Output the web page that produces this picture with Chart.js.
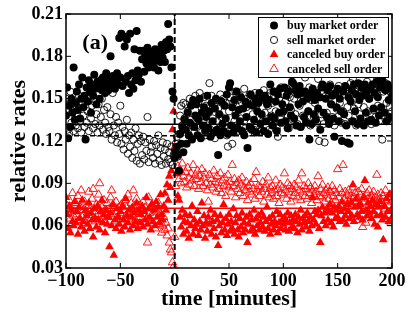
<!DOCTYPE html>
<html>
<head>
<meta charset="utf-8">
<script src="https://cdn.jsdelivr.net/npm/chart.js@4.4.1/dist/chart.umd.min.js"></script>
<style>
    html, body { margin: 0; padding: 0; background: #fff; }
    #chart { display: block; }
</style>
</head>
<body>
<canvas id="chart" width="409" height="314"></canvas>
<script>
// axis ticks
const xTicks = [-100, -50, 0, 50, 100, 150, 200];
const yTicks = [0.03, 0.06, 0.09, 0.12, 0.15, 0.18, 0.21];

// one value per minute, from -100 to 200
const firstMinute = -100;

// buy market order (filled black circles)
const buyMarket = [
    0.138, 0.158, 0.122, 0.145, 0.130, 0.150, 0.140, 0.172, 0.135, 0.147, // -100
    0.155, 0.142, 0.160, 0.136, 0.150, 0.165, 0.144, 0.152, 0.121, 0.158, // -90
    0.148, 0.163, 0.155, 0.140, 0.160, 0.152, 0.167, 0.157, 0.146, 0.162, // -80
    0.158, 0.150, 0.163, 0.156, 0.165, 0.160, 0.154, 0.168, 0.161, 0.156, // -70
    0.164, 0.180, 0.159, 0.166, 0.161, 0.157, 0.163, 0.168, 0.160, 0.193, // -60
    0.165, 0.196, 0.159, 0.194, 0.187, 0.162, 0.192, 0.166, 0.154, 0.196, // -50
    0.160, 0.168, 0.157, 0.185, 0.163, 0.198, 0.170, 0.167, 0.184, 0.162, // -40
    0.178, 0.184, 0.169, 0.181, 0.175, 0.186, 0.172, 0.179, 0.183, 0.174, // -30
    0.180, 0.172, 0.185, 0.177, 0.181, 0.170, 0.183, 0.176, 0.188, 0.179, // -20
    0.184, 0.176, 0.190, 0.185, 0.203, 0.192, 0.187, 0.172, 0.155, 0.150, // -10
    0.108, 0.113, 0.116, 0.110, 0.099, 0.125, 0.118, 0.130, 0.112, 0.135, // 0
    0.128, 0.118, 0.140, 0.124, 0.133, 0.145, 0.121, 0.149, 0.130, 0.138, // 10
    0.146, 0.124, 0.135, 0.150, 0.122, 0.140, 0.131, 0.144, 0.127, 0.137, // 20
    0.152, 0.129, 0.141, 0.123, 0.147, 0.134, 0.126, 0.143, 0.150, 0.128, // 30
    0.110, 0.139, 0.124, 0.148, 0.132, 0.127, 0.145, 0.136, 0.153, 0.125, // 40
    0.158, 0.161, 0.131, 0.144, 0.126, 0.149, 0.138, 0.155, 0.129, 0.142, // 50
    0.134, 0.151, 0.127, 0.143, 0.124, 0.148, 0.137, 0.115, 0.146, 0.130, // 60
    0.153, 0.128, 0.145, 0.135, 0.150, 0.126, 0.141, 0.147, 0.154, 0.132, // 70
    0.139, 0.150, 0.127, 0.152, 0.134, 0.146, 0.125, 0.149, 0.160, 0.137, // 80
    0.131, 0.155, 0.136, 0.148, 0.127, 0.153, 0.140, 0.157, 0.133, 0.146, // 90
    0.141, 0.158, 0.134, 0.152, 0.129, 0.155, 0.144, 0.138, 0.162, 0.161, // 100
    0.136, 0.156, 0.131, 0.153, 0.146, 0.159, 0.130, 0.154, 0.148, 0.137, // 110
    0.155, 0.133, 0.150, 0.141, 0.121, 0.153, 0.132, 0.157, 0.139, 0.149, // 120
    0.135, 0.154, 0.143, 0.151, 0.128, 0.158, 0.160, 0.140, 0.158, 0.150, // 130
    0.137, 0.156, 0.132, 0.159, 0.146, 0.152, 0.136, 0.123, 0.154, 0.144, // 140
    0.157, 0.134, 0.150, 0.141, 0.120, 0.155, 0.139, 0.159, 0.131, 0.119, // 150
    0.151, 0.118, 0.148, 0.156, 0.134, 0.160, 0.141, 0.153, 0.132, 0.161, // 160
    0.149, 0.136, 0.158, 0.152, 0.131, 0.160, 0.140, 0.155, 0.134, 0.150, // 170
    0.157, 0.135, 0.160, 0.143, 0.154, 0.133, 0.162, 0.151, 0.138, 0.158, // 180
    0.144, 0.163, 0.161, 0.140, 0.156, 0.134, 0.160, 0.149, 0.137, 0.157, // 190
    0.152                                                                 // 200
];

// sell market order (open black circles)
const sellMarket = [
    0.150, 0.128, 0.146, 0.125, 0.155, 0.133, 0.141, 0.127, 0.148, 0.131, // -100
    0.144, 0.129, 0.152, 0.134, 0.126, 0.147, 0.138, 0.130, 0.149, 0.133, // -90
    0.141, 0.127, 0.150, 0.136, 0.145, 0.129, 0.148, 0.132, 0.139, 0.126, // -80
    0.146, 0.131, 0.137, 0.150, 0.128, 0.142, 0.133, 0.125, 0.144, 0.130, // -70
    0.127, 0.139, 0.121, 0.154, 0.131, 0.124, 0.137, 0.119, 0.133, 0.125, // -60
    0.145, 0.118, 0.130, 0.114, 0.127, 0.121, 0.135, 0.111, 0.124, 0.116, // -50
    0.126, 0.108, 0.121, 0.113, 0.129, 0.106, 0.118, 0.124, 0.104, 0.120, // -40
    0.110, 0.123, 0.107, 0.119, 0.113, 0.137, 0.105, 0.121, 0.112, 0.116, // -30
    0.108, 0.120, 0.104, 0.117, 0.111, 0.124, 0.106, 0.115, 0.103, 0.119, // -20
    0.109, 0.114, 0.104, 0.118, 0.107, 0.112, 0.105, 0.116, 0.103, 0.110, // -10
    0.112, 0.118, 0.123, 0.109, 0.125, 0.138, 0.145, 0.131, 0.147, 0.136, // 0
    0.146, 0.129, 0.141, 0.124, 0.150, 0.135, 0.131, 0.147, 0.126, 0.152, // 10
    0.137, 0.130, 0.148, 0.154, 0.127, 0.143, 0.133, 0.151, 0.124, 0.145, // 20
    0.131, 0.144, 0.161, 0.128, 0.152, 0.136, 0.146, 0.122, 0.149, 0.134, // 30
    0.143, 0.129, 0.153, 0.137, 0.126, 0.150, 0.133, 0.147, 0.124, 0.116, // 40
    0.141, 0.151, 0.129, 0.118, 0.147, 0.134, 0.155, 0.131, 0.149, 0.127, // 50
    0.152, 0.136, 0.147, 0.130, 0.157, 0.129, 0.144, 0.150, 0.126, 0.153, // 60
    0.133, 0.148, 0.139, 0.128, 0.154, 0.145, 0.131, 0.151, 0.137, 0.127, // 70
    0.149, 0.134, 0.156, 0.140, 0.130, 0.152, 0.145, 0.128, 0.154, 0.138, // 80
    0.147, 0.132, 0.155, 0.141, 0.129, 0.123, 0.150, 0.136, 0.158, 0.140, // 90
    0.153, 0.133, 0.148, 0.157, 0.138, 0.129, 0.151, 0.142, 0.160, 0.135, // 100
    0.150, 0.139, 0.157, 0.132, 0.153, 0.145, 0.130, 0.155, 0.138, 0.151, // 110
    0.165, 0.134, 0.152, 0.141, 0.158, 0.131, 0.149, 0.156, 0.137, 0.147, // 120
    0.153, 0.133, 0.164, 0.120, 0.151, 0.139, 0.159, 0.132, 0.119, 0.152, // 130
    0.140, 0.155, 0.134, 0.160, 0.146, 0.137, 0.157, 0.131, 0.153, 0.143, // 140
    0.137, 0.159, 0.147, 0.133, 0.156, 0.141, 0.153, 0.132, 0.158, 0.144, // 150
    0.138, 0.152, 0.161, 0.134, 0.164, 0.143, 0.155, 0.131, 0.158, 0.146, // 160
    0.139, 0.160, 0.133, 0.153, 0.144, 0.157, 0.136, 0.162, 0.141, 0.150, // 170
    0.155, 0.132, 0.159, 0.142, 0.153, 0.137, 0.163, 0.145, 0.134, 0.157, // 180
    0.143, 0.121, 0.155, 0.138, 0.161, 0.147, 0.135, 0.158, 0.144, 0.154, // 190
    0.141                                                                 // 200
];

// canceled buy order (filled red triangles)
const canceledBuy = [
    0.080, 0.068, 0.058, 0.074, 0.055, 0.071, 0.063, 0.060, 0.077, 0.062, // -100
    0.070, 0.054, 0.073, 0.065, 0.059, 0.078, 0.063, 0.056, 0.071, 0.067, // -90
    0.061, 0.076, 0.058, 0.069, 0.064, 0.052, 0.072, 0.065, 0.059, 0.074, // -80
    0.064, 0.057, 0.070, 0.078, 0.062, 0.068, 0.055, 0.071, 0.061, 0.066, // -70
    0.045, 0.069, 0.060, 0.075, 0.039, 0.064, 0.058, 0.072, 0.066, 0.061, // -60
    0.070, 0.056, 0.074, 0.064, 0.059, 0.079, 0.067, 0.062, 0.071, 0.057, // -50
    0.066, 0.073, 0.060, 0.069, 0.063, 0.076, 0.058, 0.071, 0.062, 0.068, // -40
    0.074, 0.059, 0.070, 0.064, 0.080, 0.061, 0.072, 0.066, 0.057, 0.075, // -30
    0.063, 0.071, 0.060, 0.077, 0.066, 0.073, 0.062, 0.082, 0.068, 0.064, // -20
    0.074, 0.083, 0.071, 0.089, 0.078, 0.095, 0.087, 0.099, 0.128, 0.141, // -10
    0.116, 0.112, 0.097, 0.081, 0.078, 0.066, 0.059, 0.071, 0.054, 0.063, // 0
    0.068, 0.056, 0.062, 0.051, 0.067, 0.060, 0.074, 0.054, 0.064, 0.058, // 10
    0.061, 0.070, 0.053, 0.063, 0.057, 0.076, 0.060, 0.067, 0.051, 0.062, // 20
    0.056, 0.066, 0.061, 0.071, 0.054, 0.063, 0.058, 0.068, 0.052, 0.064, // 30
    0.046, 0.060, 0.067, 0.055, 0.062, 0.075, 0.057, 0.065, 0.053, 0.061, // 40
    0.068, 0.056, 0.063, 0.058, 0.072, 0.054, 0.062, 0.067, 0.057, 0.052, // 50
    0.065, 0.059, 0.069, 0.055, 0.062, 0.057, 0.066, 0.048, 0.061, 0.068, // 60
    0.056, 0.064, 0.058, 0.071, 0.054, 0.065, 0.060, 0.067, 0.057, 0.062, // 70
    0.069, 0.059, 0.066, 0.056, 0.063, 0.073, 0.058, 0.065, 0.054, 0.061, // 80
    0.067, 0.057, 0.063, 0.060, 0.070, 0.055, 0.062, 0.068, 0.058, 0.064, // 90
    0.061, 0.066, 0.057, 0.063, 0.069, 0.056, 0.062, 0.067, 0.059, 0.064, // 100
    0.058, 0.068, 0.063, 0.055, 0.066, 0.061, 0.071, 0.057, 0.065, 0.062, // 110
    0.067, 0.059, 0.069, 0.063, 0.056, 0.066, 0.060, 0.080, 0.064, 0.070, // 120
    0.061, 0.068, 0.071, 0.058, 0.048, 0.067, 0.073, 0.063, 0.069, 0.060, // 130
    0.072, 0.064, 0.070, 0.075, 0.062, 0.069, 0.059, 0.073, 0.065, 0.071, // 140
    0.066, 0.074, 0.063, 0.070, 0.077, 0.064, 0.072, 0.067, 0.061, 0.075, // 150
    0.070, 0.065, 0.076, 0.067, 0.089, 0.063, 0.073, 0.079, 0.068, 0.074, // 160
    0.066, 0.075, 0.070, 0.064, 0.080, 0.092, 0.071, 0.067, 0.076, 0.069, // 170
    0.074, 0.065, 0.078, 0.070, 0.061, 0.075, 0.067, 0.059, 0.073, 0.077, // 180
    0.068, 0.064, 0.050, 0.074, 0.066, 0.079, 0.070, 0.063, 0.082, 0.071, // 190
    0.066                                                                 // 200
];

// canceled sell order (open red triangles)
const canceledSell = [
    0.061, 0.074, 0.069, 0.078, 0.065, 0.072, 0.083, 0.067, 0.070, 0.076, // -100
    0.068, 0.081, 0.064, 0.073, 0.085, 0.066, 0.071, 0.077, 0.062, 0.074, // -90
    0.069, 0.084, 0.072, 0.065, 0.079, 0.086, 0.070, 0.063, 0.075, 0.068, // -80
    0.082, 0.090, 0.067, 0.073, 0.064, 0.078, 0.071, 0.069, 0.076, 0.066, // -70
    0.072, 0.080, 0.085, 0.068, 0.074, 0.063, 0.077, 0.070, 0.066, 0.073, // -60
    0.069, 0.075, 0.062, 0.071, 0.078, 0.067, 0.073, 0.082, 0.065, 0.070, // -50
    0.076, 0.068, 0.085, 0.072, 0.064, 0.079, 0.070, 0.066, 0.074, 0.061, // -40
    0.071, 0.077, 0.068, 0.073, 0.065, 0.048, 0.080, 0.069, 0.062, 0.075, // -30
    0.067, 0.072, 0.058, 0.070, 0.064, 0.076, 0.061, 0.068, 0.055, 0.060, // -20
    0.066, 0.057, 0.062, 0.053, 0.058, 0.048, 0.043, 0.041, 0.034, 0.031, // -10
    0.052, 0.088, 0.097, 0.102, 0.093, 0.099, 0.090, 0.104, 0.095, 0.091, // 0
    0.098, 0.087, 0.101, 0.094, 0.089, 0.097, 0.092, 0.103, 0.088, 0.096, // 10
    0.093, 0.099, 0.086, 0.095, 0.091, 0.100, 0.088, 0.094, 0.097, 0.090, // 20
    0.085, 0.077, 0.096, 0.089, 0.093, 0.087, 0.099, 0.091, 0.084, 0.095, // 30
    0.090, 0.086, 0.097, 0.083, 0.092, 0.088, 0.094, 0.081, 0.089, 0.096, // 40
    0.087, 0.091, 0.084, 0.103, 0.088, 0.093, 0.080, 0.090, 0.086, 0.092, // 50
    0.083, 0.089, 0.094, 0.081, 0.087, 0.085, 0.091, 0.078, 0.088, 0.084, // 60
    0.090, 0.082, 0.086, 0.093, 0.079, 0.098, 0.085, 0.088, 0.081, 0.087, // 70
    0.084, 0.091, 0.077, 0.086, 0.089, 0.082, 0.094, 0.080, 0.087, 0.083, // 80
    0.088, 0.079, 0.085, 0.092, 0.081, 0.086, 0.076, 0.089, 0.083, 0.087, // 90
    0.082, 0.097, 0.085, 0.079, 0.090, 0.084, 0.088, 0.077, 0.086, 0.081, // 100
    0.089, 0.083, 0.087, 0.080, 0.092, 0.085, 0.078, 0.097, 0.084, 0.088, // 110
    0.081, 0.086, 0.079, 0.090, 0.083, 0.087, 0.076, 0.085, 0.082, 0.088, // 120
    0.084, 0.078, 0.095, 0.081, 0.086, 0.080, 0.089, 0.083, 0.077, 0.085, // 130
    0.082, 0.087, 0.079, 0.084, 0.076, 0.088, 0.081, 0.085, 0.078, 0.083, // 140
    0.100, 0.080, 0.086, 0.074, 0.083, 0.103, 0.079, 0.084, 0.077, 0.082, // 150
    0.085, 0.078, 0.081, 0.075, 0.087, 0.080, 0.083, 0.064, 0.079, 0.084, // 160
    0.076, 0.082, 0.086, 0.059, 0.080, 0.077, 0.062, 0.083, 0.079, 0.085, // 170
    0.078, 0.081, 0.074, 0.084, 0.080, 0.077, 0.096, 0.082, 0.075, 0.079, // 180
    0.083, 0.076, 0.081, 0.072, 0.085, 0.078, 0.080, 0.074, 0.082, 0.062, // 190
    0.077                                                                 // 200
];

// reference levels
const marketLevelSolid = 0.1318;
const marketLevelDashed = 0.1238;
const canceledLevel = 0.0723;
const eventMinute = 0;

const serif = "'Liberation Serif', 'Times New Roman', serif";

function toPoints(values) {
    return values.map((v, i) => ({ x: firstMinute + i, y: v }));
}
function hLine(level) {
    return [{ x: xTicks[0], y: level }, { x: xTicks[xTicks.length - 1], y: level }];
}

const legendItems = [
    { text: 'buy market order', style: 'circle', fill: '#000', stroke: '#000' },
    { text: 'sell market order', style: 'circle', fill: null, stroke: '#000' },
    { text: 'canceled buy order', style: 'triangle', fill: '#ff0000', stroke: '#ff0000' },
    { text: 'canceled sell order', style: 'triangle', fill: null, stroke: '#ff0000' }
];

function drawMarker(ctx, item, x, y) {
    ctx.beginPath();
    if (item.style === 'circle') {
        ctx.arc(x, y, item.fill ? 4 : 3.6, 0, Math.PI * 2);
    } else {
        const r = 5;
        ctx.moveTo(x, y - r);
        ctx.lineTo(x + r * 0.866, y + r * 0.5);
        ctx.lineTo(x - r * 0.866, y + r * 0.5);
        ctx.closePath();
    }
    if (item.fill) {
        ctx.fillStyle = item.fill;
        ctx.fill();
    } else {
        ctx.lineWidth = 0.9;
        ctx.strokeStyle = item.stroke;
        ctx.stroke();
    }
}

const framePlugin = {
    id: 'frame',
    afterDatasetsDraw(chart) {
        const { ctx, chartArea: a, scales: { x, y } } = chart;
        ctx.save();
        ctx.strokeStyle = '#000';
        ctx.lineWidth = 1;
        ctx.beginPath();
        xTicks.forEach(v => {
            const px = x.getPixelForValue(v);
            ctx.moveTo(px, a.bottom); ctx.lineTo(px, a.bottom - 5);
            ctx.moveTo(px, a.top); ctx.lineTo(px, a.top + 5);
        });
        yTicks.forEach(v => {
            const py = y.getPixelForValue(v);
            ctx.moveTo(a.left, py); ctx.lineTo(a.left + 5, py);
            ctx.moveTo(a.right, py); ctx.lineTo(a.right - 5, py);
        });
        ctx.stroke();
        ctx.lineWidth = 1.5;
        ctx.strokeRect(a.left, a.top, a.right - a.left, a.bottom - a.top);

        // panel label
        ctx.fillStyle = '#000';
        ctx.font = 'bold 22px ' + serif;
        ctx.textBaseline = 'alphabetic';
        ctx.textAlign = 'left';
        ctx.fillText('(a)', x.getPixelForValue(-85), y.getPixelForValue(0.185));

        // legend box
        const bx = 258, by = 17, bw = 130, bh = 60;
        ctx.fillStyle = '#fff';
        ctx.fillRect(bx, by, bw, bh);
        ctx.lineWidth = 1;
        ctx.strokeRect(bx + 0.5, by + 0.5, bw, bh);
        ctx.font = 'bold 12px ' + serif;
        ctx.textBaseline = 'middle';
        legendItems.forEach((item, i) => {
            const ly = by + 8.5 + i * 14.5;
            drawMarker(ctx, item, bx + 16, ly);
            ctx.fillStyle = '#000';
            ctx.fillText(item.text, bx + 29, ly + 0.5);
        });
        ctx.restore();
    }
};

const lineStyle = { showLine: true, pointRadius: 0, pointHoverRadius: 0, fill: false };

new Chart(document.getElementById('chart'), {
    type: 'scatter',
    data: {
        datasets: [
            Object.assign({ data: hLine(marketLevelSolid), borderColor: '#000', borderWidth: 1.5 }, lineStyle),
            Object.assign({ data: hLine(marketLevelDashed), borderColor: '#000', borderWidth: 1.5, borderDash: [5, 3] }, lineStyle),
            Object.assign({ data: hLine(canceledLevel), borderColor: '#ff0000', borderWidth: 1.5 }, lineStyle),
            Object.assign({ data: [{ x: eventMinute, y: yTicks[0] }, { x: eventMinute, y: yTicks[yTicks.length - 1] }],
                borderColor: '#000', borderWidth: 2, borderDash: [6, 3] }, lineStyle),
            {
                label: 'sell market order', data: toPoints(sellMarket),
                pointStyle: 'circle', pointRadius: 3.6, borderWidth: 0.9,
                backgroundColor: 'rgba(0,0,0,0)', borderColor: '#000'
            },
            {
                label: 'buy market order', data: toPoints(buyMarket),
                pointStyle: 'circle', pointRadius: 4, borderWidth: 0,
                backgroundColor: '#000', borderColor: '#000'
            },
            {
                label: 'canceled buy order', data: toPoints(canceledBuy),
                pointStyle: 'triangle', pointRadius: 5, borderWidth: 0,
                backgroundColor: '#ff0000', borderColor: '#ff0000'
            },
            {
                label: 'canceled sell order', data: toPoints(canceledSell),
                pointStyle: 'triangle', pointRadius: 4.8, borderWidth: 0.9,
                backgroundColor: 'rgba(0,0,0,0)', borderColor: '#ff0000'
            }
        ]
    },
    options: {
        responsive: false,
        animation: false,
        events: [],
        layout: { padding: { left: 0, top: 14, right: 17, bottom: 0 } },
        plugins: { legend: { display: false }, tooltip: { enabled: false } },
        scales: {
            x: {
                type: 'linear', min: xTicks[0], max: xTicks[xTicks.length - 1],
                afterBuildTicks: s => { s.ticks = xTicks.map(v => ({ value: v })); },
                afterFit: s => { s.height = 46; },
                grid: { display: false, drawTicks: false },
                border: { display: false },
                ticks: {
                    padding: 3, color: '#000', maxRotation: 0,
                    font: { family: serif, size: 18, weight: 'bold' },
                    callback: v => String(v).replace('-', '\u2212')
                },
                title: {
                    display: true, text: 'time [minutes]', color: '#000',
                    font: { family: serif, size: 22, weight: 'bold' },
                    padding: { top: 0, bottom: 1 }
                }
            },
            y: {
                type: 'linear', min: yTicks[0], max: yTicks[yTicks.length - 1],
                afterBuildTicks: s => { s.ticks = yTicks.map(v => ({ value: v })); },
                afterFit: s => { s.width = 66; },
                grid: { display: false, drawTicks: false },
                border: { display: false },
                ticks: {
                    padding: 3, color: '#000',
                    font: { family: serif, size: 18, weight: 'bold' },
                    callback: v => v.toFixed(2)
                },
                title: {
                    display: true, text: 'relative rates', color: '#000',
                    font: { family: serif, size: 22, weight: 'bold' },
                    padding: { top: 6, bottom: 0 }
                }
            }
        }
    },
    plugins: [framePlugin]
});
</script>
</body>
</html>
